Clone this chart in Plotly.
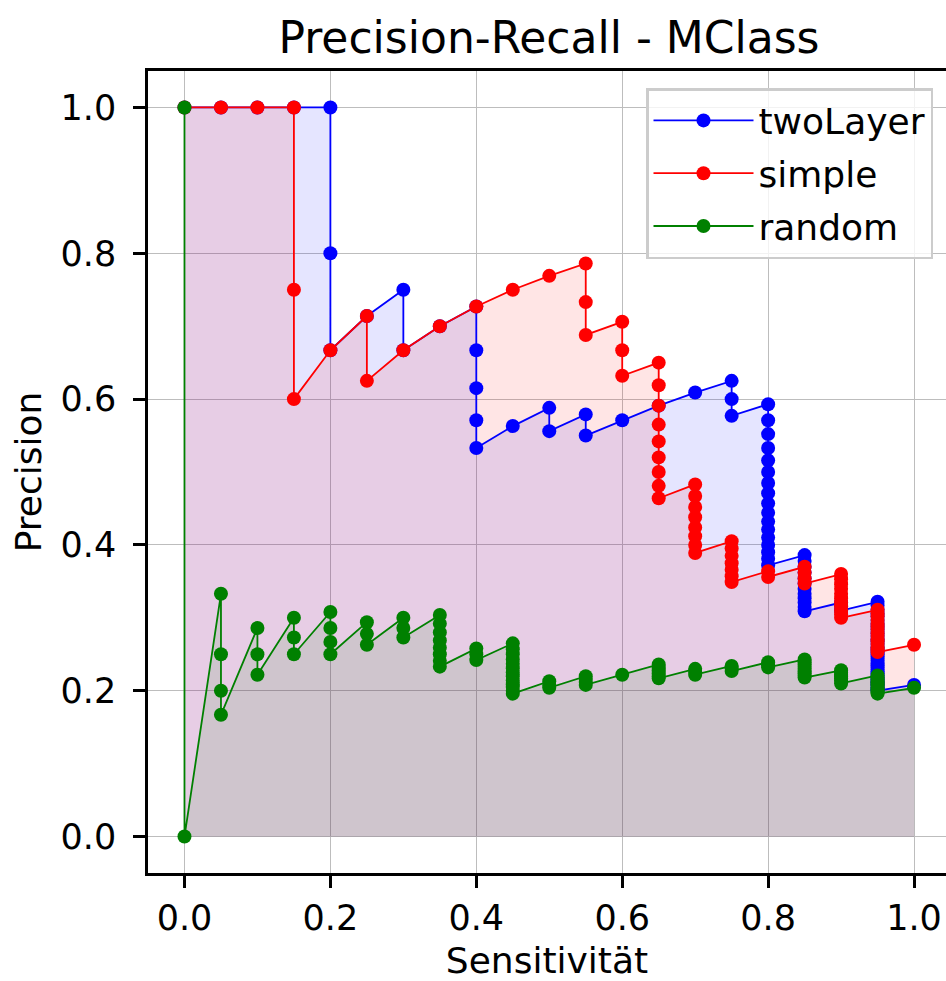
import plotly.graph_objects as go

# ---- data (recall levels and precision values per level) ----
recall_levels = [0.0, 0.05, 0.1, 0.15, 0.2, 0.25, 0.3, 0.35, 0.4, 0.45, 0.5,
                 0.55, 0.6, 0.65, 0.7, 0.75, 0.8, 0.85, 0.9, 0.95, 1.0]

twoLayer_precision = [
    [1.0], [1.0], [1.0], [1.0],
    [1.0, 0.8, 0.667],
    [0.714],
    [0.75, 0.667],
    [0.7],
    [0.727, 0.667, 0.615, 0.571, 0.533],
    [0.563],
    [0.588, 0.556],
    [0.579, 0.55],
    [0.571],
    [0.591],
    [0.609],
    [0.625, 0.6, 0.577],
    [0.593, 0.571, 0.552, 0.533, 0.516, 0.5, 0.485, 0.471, 0.457, 0.444,
     0.432, 0.421, 0.41, 0.4, 0.39, 0.381, 0.372],
    [0.386, 0.378, 0.37, 0.362, 0.354, 0.347, 0.34, 0.333, 0.327, 0.321,
     0.315, 0.309],
    [0.321, 0.316, 0.31],
    [0.322, 0.317, 0.311, 0.306, 0.302, 0.297, 0.292, 0.288, 0.284, 0.279,
     0.275, 0.271, 0.268, 0.264, 0.26, 0.257, 0.253, 0.25, 0.247, 0.244,
     0.241, 0.238, 0.235, 0.232, 0.229, 0.226, 0.224, 0.221, 0.218, 0.216,
     0.213, 0.211, 0.209, 0.207, 0.204, 0.202, 0.2],
    [0.208],
]

simple_precision = [
    [1.0], [1.0], [1.0],
    [1.0, 0.75, 0.6],
    [0.667],
    [0.714, 0.625],
    [0.667],
    [0.7],
    [0.727],
    [0.75],
    [0.769],
    [0.786, 0.733, 0.688],
    [0.706, 0.667, 0.632],
    [0.65, 0.619, 0.591, 0.565, 0.542, 0.52, 0.5, 0.481, 0.464],
    [0.483, 0.467, 0.452, 0.438, 0.424, 0.412, 0.4, 0.389],
    [0.405, 0.395, 0.385, 0.375, 0.366, 0.357, 0.349],
    [0.364, 0.356],
    [0.37, 0.362, 0.354, 0.347],
    [0.36, 0.353, 0.346, 0.34, 0.333, 0.327, 0.321, 0.316, 0.31, 0.305, 0.3],
    [0.311, 0.306, 0.302, 0.297, 0.292, 0.288, 0.284, 0.279, 0.275, 0.271,
     0.268, 0.264, 0.26, 0.257, 0.253],
    [0.263],
]

random_precision = [
    [1.0, 0.0],
    [0.333, 0.25, 0.2, 0.167],
    [0.286, 0.25, 0.222],
    [0.3, 0.273, 0.25],
    [0.308, 0.286, 0.267, 0.25],
    [0.294, 0.278, 0.263],
    [0.3, 0.286, 0.273],
    [0.304, 0.292, 0.28, 0.269, 0.259, 0.25, 0.241, 0.233],
    [0.258, 0.25, 0.242],
    [0.265, 0.257, 0.25, 0.243, 0.237, 0.231, 0.225, 0.22, 0.214, 0.209,
     0.205, 0.2, 0.196],
    [0.213, 0.208, 0.204],
    [0.22, 0.216, 0.212, 0.208],
    [0.222],
    [0.236, 0.232, 0.228, 0.224, 0.22, 0.217],
    [0.23, 0.226, 0.222],
    [0.234, 0.231, 0.227],
    [0.239, 0.235, 0.232],
    [0.243, 0.239, 0.236, 0.233, 0.23, 0.227, 0.224, 0.221, 0.218],
    [0.228, 0.225, 0.222, 0.22, 0.217, 0.214, 0.21],
    [0.221, 0.218, 0.216, 0.213, 0.211, 0.209, 0.207, 0.204, 0.202, 0.2,
     0.198, 0.196],
    [0.204],
]

tick_vals = [0.0, 0.2, 0.4, 0.6, 0.8, 1.0]
tick_text = ["0.0", "0.2", "0.4", "0.6", "0.8", "1.0"]


def flatten(levels, groups):
    xs, ys = [], []
    for r, g in zip(levels, groups):
        for p in g:
            xs.append(r)
            ys.append(p)
    return xs, ys


series = [
    ("twoLayer", twoLayer_precision, "#0000ff", "rgba(0,0,255,0.1)"),
    ("simple", simple_precision, "#ff0000", "rgba(255,0,0,0.1)"),
    ("random", random_precision, "#008000", "rgba(0,128,0,0.1)"),
]

FONT = "DejaVu Sans"
fig = go.Figure()

flat = []
for name, groups, col, fcol in series:
    xs, ys = flatten(recall_levels, groups)
    flat.append((name, xs, ys, col, fcol))

# fills first (below all lines)
for name, xs, ys, col, fcol in flat:
    fig.add_trace(go.Scatter(x=xs, y=ys, mode="none", fill="tozeroy",
                             fillcolor=fcol, showlegend=False, hoverinfo="skip"))

for name, xs, ys, col, fcol in flat:
    fig.add_trace(go.Scatter(x=xs, y=ys, mode="lines+markers", name=name,
                             legendgroup=name,
                             line=dict(color=col, width=1.8),
                             marker=dict(color=col, size=14)))

axis_common = dict(
    tickvals=tick_vals, ticktext=tick_text,
    showgrid=True, gridcolor="#bdbdbd", gridwidth=1,
    zeroline=False, showline=True, linecolor="black", linewidth=2.5,
    ticks="outside", ticklen=12, tickwidth=2.5, tickcolor="black",
    tickfont=dict(family=FONT, size=35, color="black"),
    automargin=False,
)

fig.update_layout(
    width=946, height=981,
    margin=dict(l=148, r=0, t=71, b=108),
    paper_bgcolor="white", plot_bgcolor="white",
    title=dict(text="Precision-Recall - MClass", x=(549 / 946), xanchor="center",
               y=1 - 38 / 981, yanchor="middle", yref="container",
               font=dict(family=FONT, size=44, color="black")),
    xaxis=dict(range=[-0.05, 1.0438], mirror=True, ticklabelstandoff=0,
               title=dict(text="Sensitivität", standoff=21,
                          font=dict(family=FONT, size=36, color="black")),
               **axis_common),
    yaxis=dict(range=[-0.05, 1.05], mirror=False, ticklabelstandoff=10,
               title=dict(text="Precision", standoff=8,
                          font=dict(family=FONT, size=36, color="black")),
               **axis_common),
    legend=dict(x=(933 - 148) / 798, xanchor="right", y=(873 - 88) / 802, yanchor="top",
                bgcolor="rgba(255,255,255,0.8)", bordercolor="#cccccc", borderwidth=2.5,
                font=dict(family=FONT, size=36, color="black"),
                itemwidth=100, tracegroupgap=3),
    showlegend=True,
)

fig.write_html("out.html", config={"displayModeBar": False},
               post_script="document.body.style.margin='0';document.body.style.overflow='hidden';")
